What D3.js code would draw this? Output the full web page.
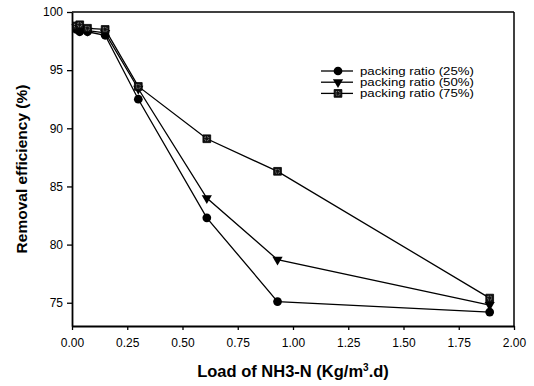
<!DOCTYPE html>
<html><head><meta charset="utf-8">
<script src="https://cdn.jsdelivr.net/npm/d3@7"></script>
<style>body{margin:0;background:#fff}svg{display:block}text{font-family:"Liberation Sans",Arial,sans-serif}</style>
</head><body>
<svg id="c" width="534" height="386"></svg>
<script>
const loads = [0.02, 0.035, 0.07, 0.15, 0.30, 0.61, 0.93, 1.89];
const ratio25 = [98.5, 98.3, 98.3, 98.0, 92.5, 82.3, 75.1, 74.2];
const ratio50 = [98.7, 98.5, 98.4, 98.2, 93.4, 84.0, 78.7, 74.8];
const ratio75 = [98.8, 98.9, 98.6, 98.5, 93.6, 89.1, 86.3, 75.4];
const seriesNames = ["packing ratio (25%)", "packing ratio (50%)", "packing ratio (75%)"];
const xTicks = [0, 0.25, 0.5, 0.75, 1.0, 1.25, 1.5, 1.75, 2.0];
const yTicks = [75, 80, 85, 90, 95, 100];

const svg = d3.select("#c");
const L = 72, R = 514, T = 12, B = 326;
const x = d3.scaleLinear().domain([0, 2]).range([L, R]);
const y = d3.scaleLinear().domain([73, 100]).range([B, T]);

// frame
svg.append("line").attr("x1", L).attr("x2", R).attr("y1", T).attr("y2", T).attr("stroke", "#000").attr("stroke-width", 1.5);
svg.append("line").attr("x1", R).attr("x2", R).attr("y1", T).attr("y2", B).attr("stroke", "#000").attr("stroke-width", 1.5);

const xa = svg.append("g").attr("transform", `translate(0,${B})`)
  .call(d3.axisBottom(x).tickValues(xTicks).tickFormat(d3.format(".2f")).tickSizeInner(4).tickSizeOuter(0).tickPadding(8));
const ya = svg.append("g").attr("transform", `translate(${L},0)`)
  .call(d3.axisLeft(y).tickValues(yTicks).tickFormat(d3.format("d")).tickSizeInner(5).tickSizeOuter(0).tickPadding(4));
[xa, ya].forEach(g => {
  g.select(".domain").attr("stroke-width", 1.8);
  g.selectAll(".tick line").attr("stroke-width", 1.3);
  g.selectAll("text").attr("font-size", 12).attr("fill", "#000").style("font-family", '"Liberation Sans",Arial,sans-serif');
});

// axis titles
svg.append("text").attr("x", 293).attr("y", 377).attr("text-anchor", "middle")
  .attr("font-size", 16.5).attr("font-weight", "bold")
  .call(t => {
    t.append("tspan").text("Load of NH3-N ");
    t.append("tspan").text("(Kg/m");
    t.append("tspan").attr("dy", -6).attr("font-size", 10).text("3");
    t.append("tspan").attr("dy", 6).text(".d)");
  });
svg.append("text").attr("transform", "translate(27,169) rotate(-90)").attr("text-anchor", "middle")
  .attr("font-size", 15.5).attr("font-weight", "bold").text("Removal efficiency (%)");

const series = [ratio25, ratio50, ratio75];
const line = d3.line().x(d => x(d[0])).y(d => y(d[1]));
const sym = [d3.symbolCircle, d3.symbolTriangle, d3.symbolSquare];
const symSize = [60, 45, 60];

function marker(g, i, cx, cy) {
  if (i === 1) {
    g.append("path").attr("d", d3.symbol(sym[i], symSize[i])()).attr("transform", `translate(${cx},${cy}) rotate(180)`).attr("fill", "#000");
  } else if (i === 2) {
    g.append("path").attr("d", d3.symbol(sym[i], symSize[i])()).attr("transform", `translate(${cx},${cy})`).attr("fill", "#111").attr("stroke", "#000").attr("stroke-width", 0.8);
    g.append("path").attr("d", d3.symbol(sym[i], 14)()).attr("transform", `translate(${cx},${cy})`).attr("fill", "none").attr("stroke", "#999").attr("stroke-width", 0.8).attr("stroke-dasharray", "1,1");
  } else {
    g.append("path").attr("d", d3.symbol(sym[i], symSize[i])()).attr("transform", `translate(${cx},${cy})`).attr("fill", "#000");
  }
}

series.forEach((vals, i) => {
  const pts = loads.map((l, j) => [l, vals[j]]);
  svg.append("path").datum(pts).attr("d", line).attr("fill", "none").attr("stroke", "#000").attr("stroke-width", 1.3);
});
series.forEach((vals, i) => {
  const g = svg.append("g");
  loads.forEach((l, j) => marker(g, i, x(l), y(vals[j])));
});

// legend
const lg = svg.append("g");
seriesNames.forEach((n, i) => {
  const yy = 71 + i * 11.2;
  lg.append("line").attr("x1", 321).attr("x2", 353).attr("y1", yy).attr("y2", yy).attr("stroke", "#000").attr("stroke-width", 1.3);
  marker(lg, i, 338, yy);
  lg.append("text").attr("x", 360).attr("y", yy + 3.8).attr("font-size", 10.5)
    .attr("textLength", 114).attr("lengthAdjust", "spacingAndGlyphs").text(n);
});
</script>
</body></html>
